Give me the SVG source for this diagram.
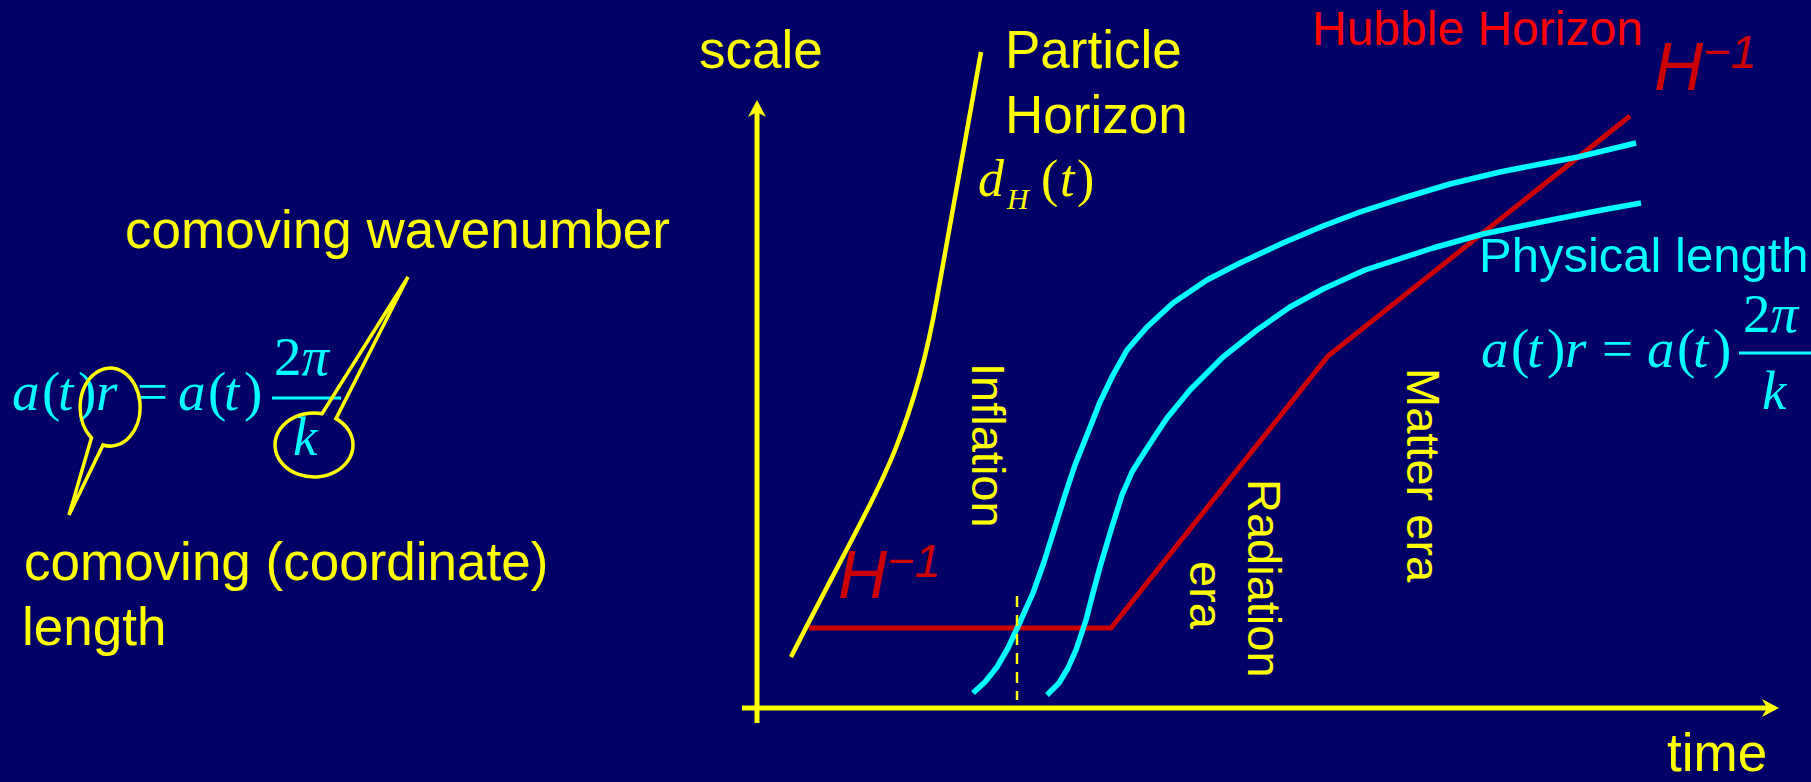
<svg xmlns="http://www.w3.org/2000/svg" width="1811" height="782" viewBox="0 0 1811 782">
<defs>
<style>
.sans{font-family:"Liberation Sans",Arial,sans-serif;}
.serif{font-family:"Liberation Serif","Times New Roman",serif;}
.yl{fill:#FFFF00;font-size:53px;}
.vt{fill:#FFFF00;font-size:47px;}
.it{font-style:italic;}
.cy{fill:#00FFFF;}
.hinv{fill:#CC0000;font-size:68px;font-style:italic;}
.axis{stroke:#FFFF00;stroke-width:5;fill:none;}
.cyc{stroke:#00FFFF;stroke-width:5.5;fill:none;stroke-linejoin:round;stroke-linecap:butt;}
.callout{stroke:#FFFF00;stroke-width:3.5;fill:none;stroke-linejoin:miter;}
</style>
<marker id="arr" viewBox="0 0 17 18" refX="5" refY="9" markerWidth="17" markerHeight="18" markerUnits="userSpaceOnUse" orient="auto">
<path d="M0,0 L17,9 L0,18 L5,9 Z" fill="#FFFF00"/>
</marker>
</defs>
<rect x="0" y="0" width="1811" height="782" fill="#000066"/>

<g id="axes">
<line class="axis" x1="757" y1="723" x2="757" y2="112" marker-end="url(#arr)"/>
<line class="axis" x1="742" y1="708" x2="1767" y2="708" marker-end="url(#arr)"/>
<text class="sans yl" x="699" y="68">scale</text>
<text class="sans yl" x="1667" y="771">time</text>
</g>

<g id="connectors">
<path id="hubble-line" d="M809,628 L1111,628 L1328,356 L1630,116" stroke="#CC0000" stroke-width="5" fill="none" stroke-linejoin="miter"/>
<path id="particle-horizon-line" d="M981,52 L937,298 C928,350 915,400 895,450 C875,500 840,560 791,657" stroke="#FFFF00" stroke-width="4.5" fill="none"/>
<path id="physical-length-1" class="cyc" d="M973,693 L985,682 L997,667 L1008,648 L1020,622 L1033,593 L1044,562 L1055,527 L1065,495 L1075,465 L1087,435 L1100,402 L1113,375 L1127,350 L1147,327 L1173,303 L1207,280 L1240,263 L1283,243 L1323,226 L1360,212 L1400,199 L1450,184 L1500,172 L1541,164 L1578,157 L1636,143"/>
<path id="physical-length-2" class="cyc" d="M1047,695 L1059,683 L1068,668 L1076,650 L1086,620 L1093,593 L1100,567 L1111,530 L1122,495 L1132,472 L1142,456 L1155,436 L1167,418 L1190,390 L1223,357 L1257,330 L1290,307 L1323,289 L1365,270 L1433,248 L1483,234 L1551,220 L1602,210 L1641,203"/>
<line id="horizon-crossing" x1="1017" y1="596" x2="1017" y2="700" stroke="#FFFF00" stroke-width="2.5" stroke-dasharray="11,8"/>
</g>

<g id="particle-horizon-label">
<text class="sans yl" x="1005" y="68">Particle</text>
<text class="sans yl" x="1005" y="133">Horizon</text>
<text class="serif it" fill="#FFFF00" font-size="52" x="978" y="196">d</text>
<text class="serif it" fill="#FFFF00" font-size="30" x="1007" y="209">H</text>
<text class="serif" fill="#FFFF00" font-size="52" x="1041" y="196">(</text>
<text class="serif it" fill="#FFFF00" font-size="52" x="1060" y="196">t</text>
<text class="serif" fill="#FFFF00" font-size="52" x="1077" y="196">)</text>
</g>

<g id="hubble-horizon-label">
<text class="sans" fill="#FF0000" font-size="48" x="1312" y="45">Hubble Horizon</text>
<text class="sans hinv" x="1654" y="90">H<tspan font-size="47" dy="-22">−1</tspan></text>
</g>

<g id="hubble-inflation-label">
<text class="sans hinv" x="838" y="598">H<tspan font-size="47" dy="-21">−1</tspan></text>
</g>

<g id="era-labels">
<text class="sans vt" transform="translate(972,363) rotate(90)">Inflation</text>
<text class="sans vt" transform="translate(1248,479) rotate(90)">Radiation</text>
<text class="sans vt" transform="translate(1190,561) rotate(90)">era</text>
<text class="sans vt" transform="translate(1407,368) rotate(90)">Matter era</text>
</g>

<g id="physical-length">
<text class="sans cy" font-size="49" x="1479" y="272">Physical length</text>
<g class="serif cy" font-size="55">
<text class="it" x="1481" y="367">a</text>
<text x="1511" y="367">(</text>
<text class="it" x="1527" y="367">t</text>
<text x="1547" y="367">)</text>
<text class="it" x="1565" y="367">r</text>
<text x="1602" y="367">=</text>
<text class="it" x="1647" y="367">a</text>
<text x="1677" y="367">(</text>
<text class="it" x="1693" y="367">t</text>
<text x="1713" y="367">)</text>
<text x="1743" y="332">2<tspan class="it">π</tspan></text>
<text class="it" x="1762" y="409">k</text>
</g>
<line x1="1739" y1="353" x2="1811" y2="353" stroke="#00FFFF" stroke-width="3"/>
</g>

<g id="comoving-formula">
<g class="serif cy" font-size="55">
<text class="it" x="12" y="410">a</text>
<text x="42" y="410">(</text>
<text class="it" x="58" y="410">t</text>
<text x="78" y="410">)</text>
<text class="it" x="96" y="410">r</text>
<text x="137" y="410">=</text>
<text class="it" x="178" y="410">a</text>
<text x="208" y="410">(</text>
<text class="it" x="224" y="410">t</text>
<text x="244" y="410">)</text>
<text x="274" y="375">2<tspan class="it">π</tspan></text>
<text class="it" x="293" y="455">k</text>
</g>
<line x1="272" y1="398" x2="341" y2="398" stroke="#00FFFF" stroke-width="3"/>
</g>

<g id="comoving-length-callout">
<path class="callout" d="M91.5,437.7 L69,515 L103,445 A30,39 0 1 0 91.5,437.7 Z"/>
<text class="sans yl" x="24" y="580">comoving (coordinate)</text>
<text class="sans yl" x="22" y="645">length</text>
</g>

<g id="comoving-wavenumber-callout">
<path class="callout" d="M322,413.7 L408,277 L336,418.6 A39,32 0 1 1 322,413.7 Z"/>
<text class="sans yl" x="125" y="248">comoving wavenumber</text>
</g>
</svg>
